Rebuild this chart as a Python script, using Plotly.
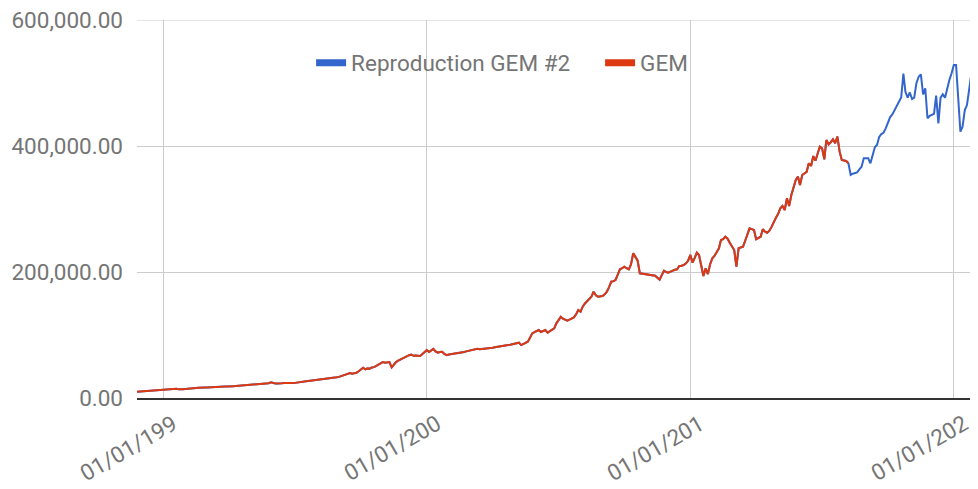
import pandas as pd
import plotly.graph_objects as go

# Monthly dates, Jan 1989 .. Dec 2020
start_month = "1989-01-01"
n_months = 384
months = pd.date_range(start_month, periods=n_months, freq="MS")

# GEM series (Jan 1989 .. Jan 2016)
gem = [
    10000, 10300, 10600, 10900, 11200, 11500, 11900, 12200, 12400, 12700, 13000, 13300,
    13800, 13500, 13700, 13600, 14200, 14400, 14500, 13900, 13600, 13800, 14200, 14800,
    15100, 15600, 15900, 16000, 16300, 16100, 16500, 16800, 16700, 17000, 16600, 17400,
    17900, 18000, 17800, 18100, 18400, 18200, 18700, 18500, 18800, 19000, 19300, 19600,
    19800, 20100, 20400, 20300, 20700, 20900, 21200, 21800, 21600, 22200, 22700, 22400,
    23500, 24900, 23800, 23000, 23200, 22900, 23300, 23800, 23500, 23600, 23300, 23700,
    24000, 24300, 24800, 25400, 26000, 26500, 27000, 27400, 27800, 28300, 29000, 29400,
    29800, 30300, 30600, 31000, 31500, 31800, 31200, 32800, 33500, 34800, 36500, 38000,
    38600, 39500, 38500, 39000, 40000, 42500, 45000, 48000, 45500, 47000, 46500, 48500,
    49000, 50800, 53500, 55500, 57000, 56000, 56500, 57000, 48700, 53000, 57000, 59500,
    61400, 63000, 64500, 66500, 68000, 68800, 67000, 67500, 66500, 66700, 70000, 72500,
    76000, 73000, 75000, 78000, 74000, 72000, 73000, 73500, 70000, 68000, 69000, 69500,
    69800, 70500, 71200, 71800, 72500, 73000, 74000, 75000, 75800, 76500, 78000, 78000,
    77500, 77800, 77600, 78000, 78400, 79000, 79800, 80500, 81200, 82500, 82200, 83000,
    83500, 84200, 84600, 85500, 86500, 87000, 87800, 84000, 86000, 87500, 89400, 95500,
    102600, 104500, 106500, 107900, 104800, 106000, 107900, 103700, 106500, 108500, 110600, 118500,
    123800, 129000, 126000, 124000, 122700, 124500, 126000, 128000, 133000, 139700, 137000, 145000,
    150000, 154000, 157000, 160800, 168700, 163000, 160800, 161000, 161900, 164500, 168700, 176000,
    184600, 185500, 187300, 196000, 204200, 206000, 208400, 206000, 204200, 212000, 229700, 224000,
    218000, 198000, 197500, 197000, 197000, 196500, 196000, 195000, 194000, 191000, 188000, 195000,
    202000, 200000, 199000, 200500, 202500, 203500, 204200, 209500, 210000, 211000, 213800, 218000,
    227000, 214800, 222000, 230700, 227000, 210000, 193700, 205800, 196800, 212000, 221700, 225400,
    232000, 237600, 250800, 252000, 256000, 252900, 246500, 240000, 234900, 208400, 237600, 239000,
    240200, 250000, 260000, 269300, 268000, 266700, 251900, 254000, 256000, 267800, 264000, 262400,
    265600, 272000, 280000, 286000, 292000, 301000, 304800, 298400, 317000, 304800, 322200, 334000,
    346000, 351300, 338000, 354000, 356000, 359000, 372500, 368300, 384000, 376700, 388000, 398900,
    396300, 378900, 409500, 402700, 406000, 410600, 404300, 414800, 391000, 377800, 377000, 376200,
    372500,
]

# Reproduction GEM #2 continues after GEM ends (Feb 2016 .. Dec 2020)
repro_tail = [
    354000, 356000, 357000, 358200, 363000, 367200, 380400, 380000, 380400, 372500, 385700,
    398000, 402000, 414000, 419000, 421000, 428000, 437000, 446000, 450000, 457000, 463000, 470000,
    477000, 515000, 486000, 476700, 485000, 474600, 476700, 500000, 510000, 513800, 482000, 491600,
    444000, 448000, 449000, 451000, 480000, 436000, 476700, 482000, 476700, 492500, 505000, 515400,
    528600, 528600, 476000, 422700, 430700, 457000, 465000, 488900, 515400, 504800, 491600, 488000,
]
repro = gem + repro_tail

series_names = ["Reproduction GEM #2", "GEM"]
series_colors = ["#3366cc", "#dc3912"]

y_ticks = [0, 200000, 400000, 600000]
y_max = 600000
x_tick_dates = ["1990-01-01", "2000-01-01", "2010-01-01", "2020-01-01"]
x_tick_labels = ["01/01/199", "01/01/200", "01/01/201", "01/01/202"]

text_color = "#757575"
grid_color = "#cccccc"
font_family = "Roboto"
font_size = 22.5

fig = go.Figure()
fig.add_trace(go.Scatter(x=months[:len(repro)], y=repro, mode="lines",
                         line=dict(color=series_colors[0], width=2),
                         showlegend=False, hoverinfo="skip"))
fig.add_trace(go.Scatter(x=months[:len(gem)], y=gem, mode="lines",
                         line=dict(color=series_colors[1], width=2),
                         showlegend=False, hoverinfo="skip"))
# legend entries
for name, color in zip(series_names, series_colors):
    fig.add_trace(go.Scatter(x=[None], y=[None], mode="lines",
                             line=dict(color=color, width=7), name=name))

# rotated x tick labels
for d, t in zip(x_tick_dates, x_tick_labels):
    fig.add_annotation(x=d, y=0, xref="x", yref="paper", text=t, showarrow=False,
                       textangle=-30, xanchor="right", yanchor="top",
                       xshift=19.5, yshift=-11, borderpad=0,
                       font=dict(family=font_family, size=font_size, color=text_color))

# top gridline (plotly drops gridlines lying on the plot edge)
fig.add_shape(type="line", xref="paper", x0=0, x1=1, yref="y", y0=y_max, y1=y_max,
              line=dict(color=grid_color, width=1), layer="below")

fig.update_layout(
    width=970, height=481,
    margin=dict(l=129, r=0, t=12, b=91),
    paper_bgcolor="white", plot_bgcolor="white",
    font=dict(family=font_family, size=font_size, color=text_color),
    legend=dict(orientation="h", x=0.207, xanchor="left", y=0.886, yanchor="middle",
                bgcolor="rgba(0,0,0,0)", font=dict(size=font_size, color=text_color),
                itemwidth=30, entrywidth=244, entrywidthmode="pixels"),
    xaxis=dict(type="date", range=[months[0], months[-1]],
               tickvals=x_tick_dates, showticklabels=False,
               showgrid=True, gridcolor=grid_color, gridwidth=1,
               showline=True, linecolor="#333333", linewidth=2,
               ticks="", zeroline=False),
    yaxis=dict(range=[0, y_max], tickvals=y_ticks, tickformat=",.2f",
               showgrid=True, gridcolor=grid_color, gridwidth=1,
               zeroline=False, ticks="", ticklabelstandoff=13,
               ticklabeloverflow="allow"),
)

fig.write_html("out.html")
